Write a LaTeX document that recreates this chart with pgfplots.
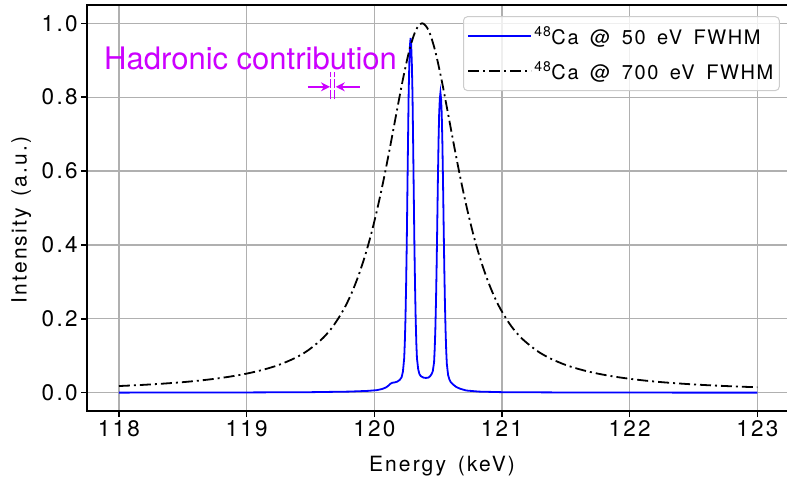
\documentclass[border=0pt]{standalone}
\usepackage{fontspec}
\setmainfont{TeX Gyre Heros}
\newfontfamily\trk[LetterSpace=10,WordSpace=1.5]{TeX Gyre Heros}
\newfontfamily\trkl[LetterSpace=8,WordSpace=1.6]{TeX Gyre Heros}
\usepackage{pgfplots}
\pgfplotsset{compat=1.18}
\usetikzlibrary{arrows.meta}
\definecolor{hadr}{RGB}{204,0,255}
\definecolor{gridc}{RGB}{176,176,176}
\definecolor{legc}{RGB}{204,204,204}
\begin{document}
\begin{tikzpicture}[x=1pt,y=1pt]
\path[use as bounding box] (0,0) rectangle (787,486);
\begin{axis}[
  at={(87.05pt,74.8pt)}, anchor=south west,
  width=702.2pt, height=406.4pt, scale only axis,
  xmin=117.75, xmax=123.25, ymin=-0.05, ymax=1.05,
  xtick={118,119,120,121,122,123},
  ytick={0,0.2,0.4,0.6,0.8,1.0},
  yticklabel style={/pgf/number format/.cd, fixed, fixed zerofill, precision=1},
  /pgf/number format/assume math mode=true,
  ticklabel style={font=\trk\fontsize{22.5}{26}\selectfont},
  xtick pos=bottom, ytick pos=left,
  tick align=outside, major tick length=6pt,
  tick style={black, line width=1.5pt},
  axis line style={line width=1.6pt},
  grid=major, major grid style={gridc, line width=1.2pt},
  legend style={at={(axis description cs:0.5354,0.972)}, anchor=north west,
    draw=legc, line width=1pt, rounded corners=4pt, fill=white, fill opacity=0.8, text opacity=1,
    font=\trkl\fontsize{20}{24}\selectfont, inner xsep=4pt, inner ysep=8pt, row sep=12pt},
  legend cell align=left,
  legend image code/.code={\draw[#1] (0pt,0pt) -- (63pt,0pt);},
]
\addplot[blue, line width=1.8pt] coordinates {
(118,0.0003)(118.5,0.0005)(119,0.0008)(119.5,0.0015)(119.8,0.003)(119.95,0.005)(120.02,0.007)(120.06,0.010)(120.09,0.014)(120.11,0.019)(120.125,0.024)(120.14,0.027)(120.16,0.028)(120.18,0.030)(120.2,0.035)(120.214,0.042)(120.224,0.057)(120.234,0.093)(120.239,0.137)(120.244,0.20)(120.249,0.29)(120.254,0.40)(120.259,0.54)(120.264,0.68)(120.269,0.81)(120.274,0.89)(120.279,0.94)(120.284,0.96)(120.289,0.94)(120.294,0.89)(120.299,0.81)(120.304,0.68)(120.309,0.54)(120.314,0.40)(120.319,0.29)(120.324,0.20)(120.329,0.135)(120.334,0.093)(120.344,0.063)(120.354,0.05)(120.364,0.045)(120.384,0.041)(120.404,0.040)(120.424,0.041)(120.438,0.045)(120.448,0.05)(120.458,0.058)(120.468,0.082)(120.473,0.118)(120.478,0.17)(120.483,0.245)(120.488,0.34)(120.493,0.455)(120.498,0.576)(120.503,0.68)(120.508,0.756)(120.513,0.795)(120.518,0.812)(120.523,0.795)(120.528,0.756)(120.533,0.68)(120.538,0.575)(120.543,0.455)(120.548,0.34)(120.553,0.245)(120.558,0.17)(120.563,0.115)(120.568,0.078)(120.578,0.048)(120.588,0.036)(120.598,0.029)(120.618,0.022)(120.64,0.016)(120.67,0.011)(120.72,0.006)(120.82,0.003)(121,0.0015)(121.5,0.0007)(122,0.0004)(123,0.0002)
};
\addlegendentry{\textsuperscript{48}Ca @ 50 eV FWHM}
\addplot[black, line width=1.8pt, smooth, dash pattern=on 11pt off 4pt on 2pt off 4pt] coordinates {
(118.0,0.0181)(118.125,0.0201)(118.25,0.0225)(118.375,0.0253)(118.5,0.0286)(118.625,0.0327)(118.75,0.0377)(118.875,0.0439)(119.0,0.0517)(119.125,0.0618)(119.25,0.075)(119.375,0.0933)(119.475,0.1132)(119.575,0.1406)(119.625,0.158)(119.675,0.179)(119.725,0.205)(119.775,0.235)(119.825,0.272)(119.875,0.316)(119.925,0.368)(119.975,0.429)(120.025,0.5)(120.075,0.58)(120.125,0.668)(120.175,0.760)(120.225,0.850)(120.275,0.9276)(120.325,0.981)(120.375,1.0)(120.425,0.981)(120.475,0.9276)(120.525,0.850)(120.575,0.760)(120.625,0.668)(120.675,0.58)(120.725,0.5)(120.775,0.429)(120.825,0.368)(120.875,0.316)(120.925,0.272)(120.975,0.235)(121.025,0.205)(121.075,0.179)(121.125,0.158)(121.175,0.1406)(121.275,0.1132)(121.375,0.0933)(121.5,0.075)(121.625,0.0618)(121.75,0.0517)(121.875,0.0439)(122.0,0.0377)(122.125,0.0327)(122.25,0.0286)(122.375,0.0253)(122.5,0.0225)(122.625,0.0201)(122.75,0.0181)(122.875,0.0163)(123.0,0.01485)
};
\addlegendentry{\textsuperscript{48}Ca @ 700 eV FWHM}
\node[anchor=base west, text=hadr, font=\fontsize{31}{36}\selectfont, inner sep=0pt] at (axis cs:117.883,0.8736) {Hadronic contribution};
\draw[hadr, line width=1.5pt, -{Stealth[length=9pt,width=9pt]}] (axis cs:119.479,0.828) -- (axis cs:119.653,0.828);
\draw[hadr, line width=1.5pt, -{Stealth[length=9pt,width=9pt]}] (axis cs:119.886,0.828) -- (axis cs:119.698,0.828);
\draw[hadr, line width=1.2pt, dash pattern=on 9pt off 2pt] (axis cs:119.659,0.794) -- (axis cs:119.659,0.869);
\draw[hadr, line width=1.2pt, dash pattern=on 9pt off 2pt] (axis cs:119.690,0.794) -- (axis cs:119.690,0.869);
\end{axis}
\node[anchor=base, font=\trk\fontsize{21}{24}\selectfont] at (442,14) {Energy (keV)};
\node[anchor=base, rotate=90, font=\trk\fontsize{21}{24}\selectfont] at (26.7,266) {Intensity (a.u.)};
\end{tikzpicture}
\end{document}
